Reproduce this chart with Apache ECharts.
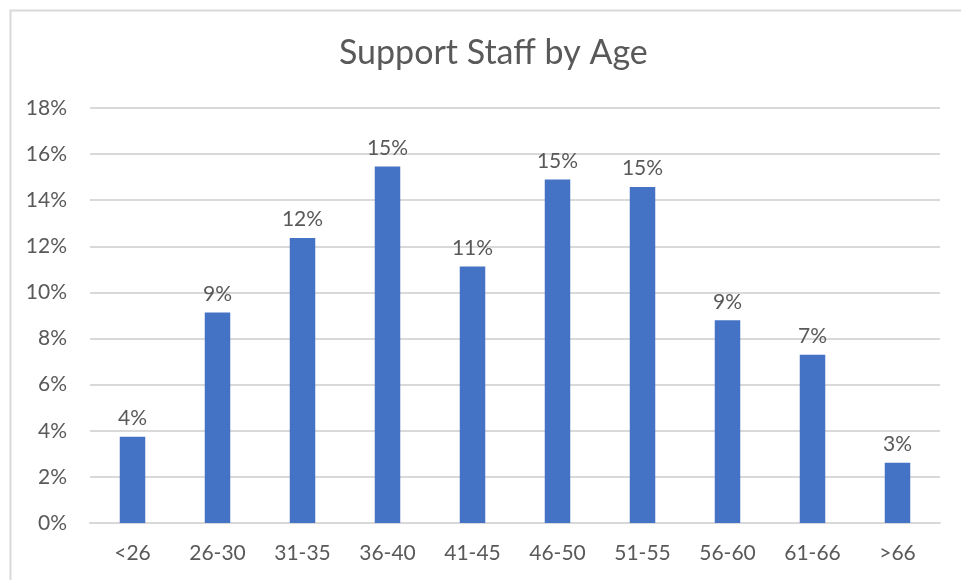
<!DOCTYPE html>
<html>
<head>
<meta charset="utf-8">
<script src="https://cdn.jsdelivr.net/npm/echarts@6/dist/echarts.min.js"></script>
<style>
html,body{margin:0;padding:0;background:#fff;}
#c{width:961px;height:580px;}
</style>
</head>
<body>
<div id="c"></div>
<script>
const categories = ['<26','26-30','31-35','36-40','41-45','46-50','51-55','56-60','61-66','>66'];
const values = [3.74, 9.13, 12.36, 15.46, 11.12, 14.9, 14.57, 8.79, 7.3, 2.61];
const yTicks = { min: 0, max: 18, interval: 2 };
const titleText = 'Support Staff by Age';

const FONT = 'Lato';
const chart = echarts.init(document.getElementById('c'));
chart.setOption({
  animation: false,
  backgroundColor: '#fff',
  graphic: [{
    type: 'rect', left: 8, top: 8, silent: true,
    shape: { width: 1000, height: 1000 },
    style: { fill: 'none', stroke: '#d9d9d9', lineWidth: 2 }
  }],
  title: {
    text: titleText, left: 334, top: 31,
    textStyle: { fontFamily: FONT, fontSize: 34, fontWeight: 'normal', color: '#595959' }
  },
  grid: { left: 90, right: 21, top: 108, bottom: 57 },
  xAxis: {
    type: 'category', data: categories,
    axisLine: { show: true, lineStyle: { color: '#d9d9d9', width: 2 } },
    axisTick: { show: false },
    axisLabel: { color: '#595959', fontFamily: FONT, fontSize: 21, margin: 20 }
  },
  yAxis: {
    type: 'value', min: yTicks.min, max: yTicks.max, interval: yTicks.interval,
    axisLine: { show: false }, axisTick: { show: false },
    splitLine: { lineStyle: { color: '#d9d9d9', width: 2 } },
    axisLabel: { color: '#595959', fontFamily: FONT, fontSize: 21, margin: 23, formatter: v => v + '%' }
  },
  series: [{
    type: 'bar', data: values, barWidth: '30%',
    itemStyle: { color: '#4472C4' },
    label: {
      show: true, position: 'top', distance: 8,
      color: '#595959', fontFamily: FONT, fontSize: 21,
      formatter: p => Math.round(p.value) + '%'
    }
  }]
});
</script>
</body>
</html>
